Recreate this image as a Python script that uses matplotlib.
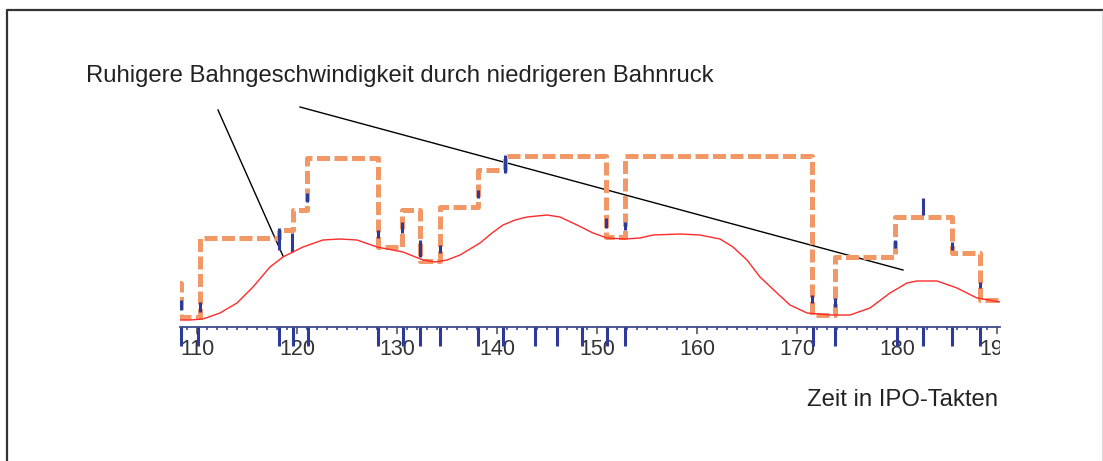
import matplotlib
matplotlib.use("Agg")
import matplotlib.pyplot as plt
from matplotlib.lines import Line2D
from matplotlib.transforms import Bbox, TransformedBbox

plt.rcParams["font.family"] = ["Liberation Sans", "DejaVu Sans"]

# Orange path velocity (step), y in arbitrary units
step_x = [108.0, 108.4, 110.3, 118.2, 119.6, 121.0, 128.1, 130.5, 132.3, 134.3,
          138.1, 140.8, 150.9, 152.8, 171.5, 173.8, 179.8, 185.5, 188.3, 190.3]
step_y = [4.4, 1.0, 8.9, 9.7, 11.7, 16.9, 8.0, 11.7, 6.6, 12.0,
          15.7, 17.1, 9.0, 17.1, 1.2, 7.0, 11.0, 7.4, 2.7, 2.7]

# Red smoothed path velocity
curve_x = [108.3, 109.3, 110.6, 112.3, 114.0, 115.6, 117.3, 118.6, 120.6, 122.6,
           124.3, 126.0, 128.0, 130.6, 132.6, 133.8, 135.0, 136.3, 137.3, 138.3,
           139.5, 140.6, 141.8, 143.0, 145.0, 146.3, 148.0, 149.6, 151.0, 152.8,
           154.3, 155.6, 158.3, 160.3, 162.3, 163.6, 165.0, 166.3, 168.0, 169.3,
           171.0, 173.3, 175.3, 177.3, 179.3, 181.0, 182.0, 184.0, 186.0, 188.0, 190.3]
curve_y = [0.7, 0.7, 0.8, 1.4, 2.4, 4.0, 6.0, 7.0, 8.0, 8.7,
           8.8, 8.7, 8.0, 7.5, 6.7, 6.5, 6.7, 7.2, 7.8, 8.4,
           9.4, 10.2, 10.7, 11.0, 11.2, 11.0, 10.2, 9.4, 8.9, 8.8,
           8.9, 9.2, 9.3, 9.2, 8.8, 8.0, 6.7, 5.0, 3.4, 2.2,
           1.4, 1.2, 1.2, 1.9, 3.4, 4.4, 4.6, 4.6, 3.9, 2.9, 2.5]

# Blue event marks on the step edges
mark_x = [108.4, 110.3, 118.2, 119.5, 121.0, 128.1, 130.5, 132.3, 134.3, 138.1,
          140.8, 150.9, 152.8, 171.5, 173.8, 179.8, 182.6, 185.5, 188.3]
mark_lo = [1.7, 1.5, 7.7, 7.5, 12.5, 8.9, 9.4, 7.0, 7.4, 12.9,
           15.4, 9.9, 9.7, 2.4, 2.0, 7.9, 11.2, 7.7, 3.9]
mark_hi = [2.7, 2.5, 9.9, 9.4, 13.4, 9.7, 10.5, 8.7, 8.2, 13.7,
           17.2, 10.9, 10.5, 3.2, 2.9, 8.7, 12.9, 8.5, 4.5]

# Blue event ticks on the time axis
event_x = [108.4, 110.1, 118.2, 119.6, 121.1, 128.1, 130.6, 132.3, 134.3, 138.1,
           140.6, 143.8, 146.0, 148.5, 151.0, 152.8, 171.6, 173.8, 180.0, 182.6,
           185.5, 188.3]

tick_vals = [110, 120, 130, 140, 150, 160, 170, 180, 190]

# Pointer lines of the annotation (start, end)
ptr1_x, ptr1_y = [112.1, 118.6], [21.7, 7.1]
ptr2_x, ptr2_y = [120.3, 180.6], [22.0, 5.7]

W, H = 1103, 461
fig = plt.figure(figsize=(W / 100, H / 100), dpi=100)
ax = fig.add_axes([180 / W, (H - 327) / H, 820 / W, 227 / H])
ax.set_xlim(108.3, 190.3)
ax.set_ylim(0, 22.7)

# frame: dark top/left edge, faint right edge
ft = fig.transFigure
fig.lines.append(Line2D([7 / W, 7 / W, 1], [0, 1 - 10 / H, 1 - 10 / H], transform=ft,
                        color="#333333", lw=1.6))
fig.lines.append(Line2D([1101.5 / W, 1101.5 / W], [0, 1 - 11 / H], transform=ft,
                        color="#dddddd", lw=1.0))

ax.step(step_x, step_y, where="post", color="#f29866", lw=3.6,
        linestyle=(0, (2.6, 0.9)), zorder=3)
ax.vlines(mark_x, mark_lo, mark_hi, color="#2e3a9a", lw=2.2, zorder=4)
ax.plot(curve_x, curve_y, color="#ff2a2a", lw=1.0, zorder=5)

for s in ["top", "right", "left"]:
    ax.spines[s].set_visible(False)
ax.spines["bottom"].set_color("#3c4a8c")
ax.spines["bottom"].set_linewidth(1.3)
ax.set_yticks([])
ax.set_xticks(tick_vals)
ax.set_xticks(range(109, 191), minor=True)
ax.tick_params(axis="x", which="major", length=5, width=1.2, color="#555555", labelbottom=False)
ax.tick_params(axis="x", which="minor", length=2.5, width=1.2, color="#3c4a9c")

clip = TransformedBbox(Bbox([[0, -1], [1, 1]]), ax.transAxes)
for v in tick_vals:
    t = ax.text(v, -2.8, str(v), ha="center", va="baseline", fontsize=15.5,
                color="#333333", clip_on=True)
    t.set_clip_box(clip)

ax.vlines(event_x, 0, -1.9, color="#2e3a9a", lw=2.2, clip_on=False, zorder=6)

ax.plot(ptr1_x, ptr1_y, color="black", lw=1.0, clip_on=False)
ax.plot(ptr2_x, ptr2_y, color="black", lw=1.0, clip_on=False)

fig.text(86 / W, 1 - 82 / H, "Ruhigere Bahngeschwindigkeit durch niedrigeren Bahnruck",
         fontsize=17.2, color="#222222", ha="left", va="baseline")
fig.text(998 / W, 1 - 406 / H, "Zeit in IPO-Takten", fontsize=17.2, color="#222222",
         ha="right", va="baseline")

fig.savefig("out.png", dpi=100)
